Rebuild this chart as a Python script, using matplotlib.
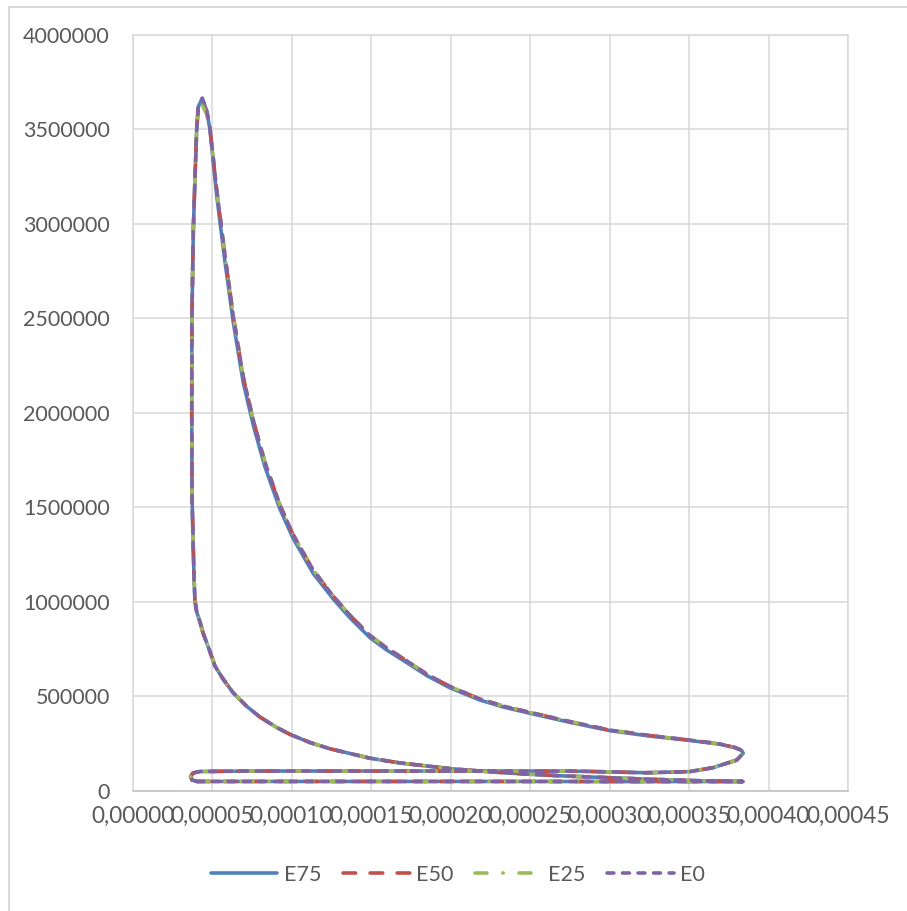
import matplotlib.pyplot as plt
from matplotlib.patches import Rectangle

plt.rcParams['font.family'] = ['Lato', 'DejaVu Sans']

# cylinder volume (m3) and pressure (Pa), one engine cycle split into strokes
vol_intake = [4.05e-5, 6.0e-5, 1.0e-4, 1.5e-4, 2.0e-4, 2.5e-4, 3.0e-4, 3.4e-4, 3.7e-4, 3.838e-4]
p_intake = [49000, 49000, 49000, 49000, 49000, 49000, 48500, 48500, 48500, 48500]

vol_compr = [3.693e-4, 3.504e-4, 3.253e-4, 3.001e-4, 2.687e-4, 2.436e-4, 2.247e-4, 1.995e-4,
             1.681e-4, 1.493e-4, 1.241e-4, 1.116e-4, 9.90e-5, 9.06e-5, 8.01e-5, 7.17e-5,
             6.33e-5, 5.70e-5, 5.18e-5, 4.87e-5, 4.44e-5, 4.24e-5, 4.03e-5, 3.92e-5,
             3.86e-5, 3.82e-5, 3.74e-5, 3.72e-5, 3.73e-5, 3.82e-5, 3.92e-5, 4.03e-5, 4.13e-5]
p_compr = [50500, 54000, 60500, 68500, 79000, 90000, 100000, 117000,
           147000, 172000, 222000, 255000, 298000, 335000, 390000, 447000,
           518000, 590000, 660000, 735000, 833000, 893000, 946000, 1008000,
           1140000, 1273000, 1550000, 2000000, 2500000, 2970000, 3230000, 3500000, 3620000]

vol_exp = [4.38e-5, 4.66e-5, 4.87e-5, 5.07e-5, 5.29e-5, 5.60e-5, 5.81e-5, 6.12e-5, 6.33e-5,
           6.96e-5, 7.59e-5, 8.32e-5, 9.27e-5, 1.010e-4, 1.136e-4, 1.262e-4, 1.367e-4,
           1.493e-4, 1.598e-4, 1.702e-4, 1.849e-4, 1.995e-4, 2.184e-4, 2.331e-4, 2.498e-4,
           2.75e-4, 3.001e-4, 3.253e-4, 3.504e-4, 3.693e-4, 3.787e-4, 3.831e-4, 3.841e-4]
p_exp_e75 = [3665000, 3600000, 3497000, 3330000, 3150000, 2940000, 2800000, 2610000, 2480000,
             2160000, 1935000, 1715000, 1490000, 1335000, 1150000, 1015000, 915000,
             810000, 745000, 690000, 610000, 545000, 480000, 443000, 410000,
             362000, 318000, 289000, 266000, 246000, 228000, 213000, 198000]
p_exp_e50 = [3645000, 3590000, 3500000, 3350000, 3180000, 2975000, 2835000, 2645000, 2515000,
             2190000, 1962000, 1740000, 1512000, 1355000, 1168000, 1030000, 929000,
             822000, 756000, 700000, 618000, 552000, 486000, 448000, 415000,
             366000, 321000, 292000, 268000, 248000, 229000, 214000, 198000]
p_exp_e25 = [3630000, 3580000, 3495000, 3350000, 3180000, 2975000, 2835000, 2645000, 2515000,
             2190000, 1962000, 1740000, 1512000, 1355000, 1168000, 1030000, 929000,
             822000, 756000, 700000, 618000, 552000, 486000, 448000, 415000,
             366000, 321000, 292000, 268000, 248000, 229000, 214000, 198000]
p_exp_e0 = [3665000, 3605000, 3505000, 3350000, 3180000, 2975000, 2835000, 2645000, 2515000,
            2190000, 1962000, 1740000, 1512000, 1355000, 1168000, 1030000, 929000,
            822000, 756000, 700000, 618000, 552000, 486000, 448000, 415000,
            366000, 321000, 292000, 268000, 248000, 229000, 214000, 198000]

vol_exhaust = [3.80e-4, 3.651e-4, 3.504e-4, 3.232e-4, 2.813e-4, 2.498e-4, 1.995e-4, 1.367e-4,
               7.38e-5, 4.24e-5, 3.80e-5, 3.65e-5, 3.73e-5, 4.05e-5]
p_exhaust = [162000, 122000, 101000, 95000, 103000, 104000, 104000, 104000,
             104000, 101600, 94000, 75000, 57000, 49000]

names = ['E75', 'E50', 'E25', 'E0']
expansion = [p_exp_e75, p_exp_e50, p_exp_e25, p_exp_e0]

x_ticks = [0, 0.00005, 0.0001, 0.00015, 0.0002, 0.00025, 0.0003, 0.00035, 0.0004, 0.00045]
x_labels = ['0,00000', '0,00005', '0,00010', '0,00015', '0,00020',
            '0,00025', '0,00030', '0,00035', '0,00040', '0,00045']
y_ticks = [0, 500000, 1000000, 1500000, 2000000, 2500000, 3000000, 3500000, 4000000]
y_labels = ['0', '500000', '1000000', '1500000', '2000000',
            '2500000', '3000000', '3500000', '4000000']

colors = ['#4F81BD', '#C0504D', '#9BBB59', '#8064A2']
dash_styles = [None, (3.5, 4), (3.3, 4.4, 0.1, 4.4), (1.9, 2.4)]

fig = plt.figure(figsize=(9.07, 9.11), dpi=100)
# chart-area border (only left and top edges fall inside the image)
fig.add_artist(Rectangle((8.5 / 907, -0.1), 2, 1.1 - 6.5 / 911, transform=fig.transFigure,
                         fill=False, edgecolor='#D9D9D9', lw=1.5))

ax = fig.add_axes([132.6 / 907, 1 - 790.7 / 911, (848 - 132.6) / 907, (790.7 - 35) / 911])

vol = vol_intake + vol_compr + vol_exp + vol_exhaust
for name, p_exp, c, d in zip(names, expansion, colors, dash_styles):
    p = p_intake + p_compr + p_exp + p_exhaust
    kw = dict(color=c, lw=2.6, label=name, solid_capstyle='round', solid_joinstyle='round',
              dash_capstyle='round', dash_joinstyle='round')
    if d is not None:
        kw['dashes'] = d
    ax.plot(vol, p, **kw)

ax.set_xlim(0, 0.00045)
ax.set_ylim(0, 4000000)
ax.set_xticks(x_ticks)
ax.set_xticklabels(x_labels)
ax.set_yticks(y_ticks)
ax.set_yticklabels(y_labels)
ax.grid(color='#D9D9D9', lw=1.1)
ax.set_axisbelow(True)
for s in ax.spines.values():
    s.set_color('#D9D9D9')
    s.set_linewidth(1.1)
ax.spines['bottom'].set_color('#BFBFBF')
ax.tick_params(length=0, labelcolor='#595959')
ax.tick_params(axis='y', pad=16.5, labelsize=15.5)
ax.tick_params(axis='x', pad=11, labelsize=16.3)

fig.legend(loc='center', bbox_to_anchor=(458 / 907, 1 - 875 / 911), ncol=4, frameon=False,
           fontsize=15.5, handlelength=3.1, handletextpad=0.3, columnspacing=1.0,
           labelcolor='#595959')

fig.savefig('out.png', dpi=100)
